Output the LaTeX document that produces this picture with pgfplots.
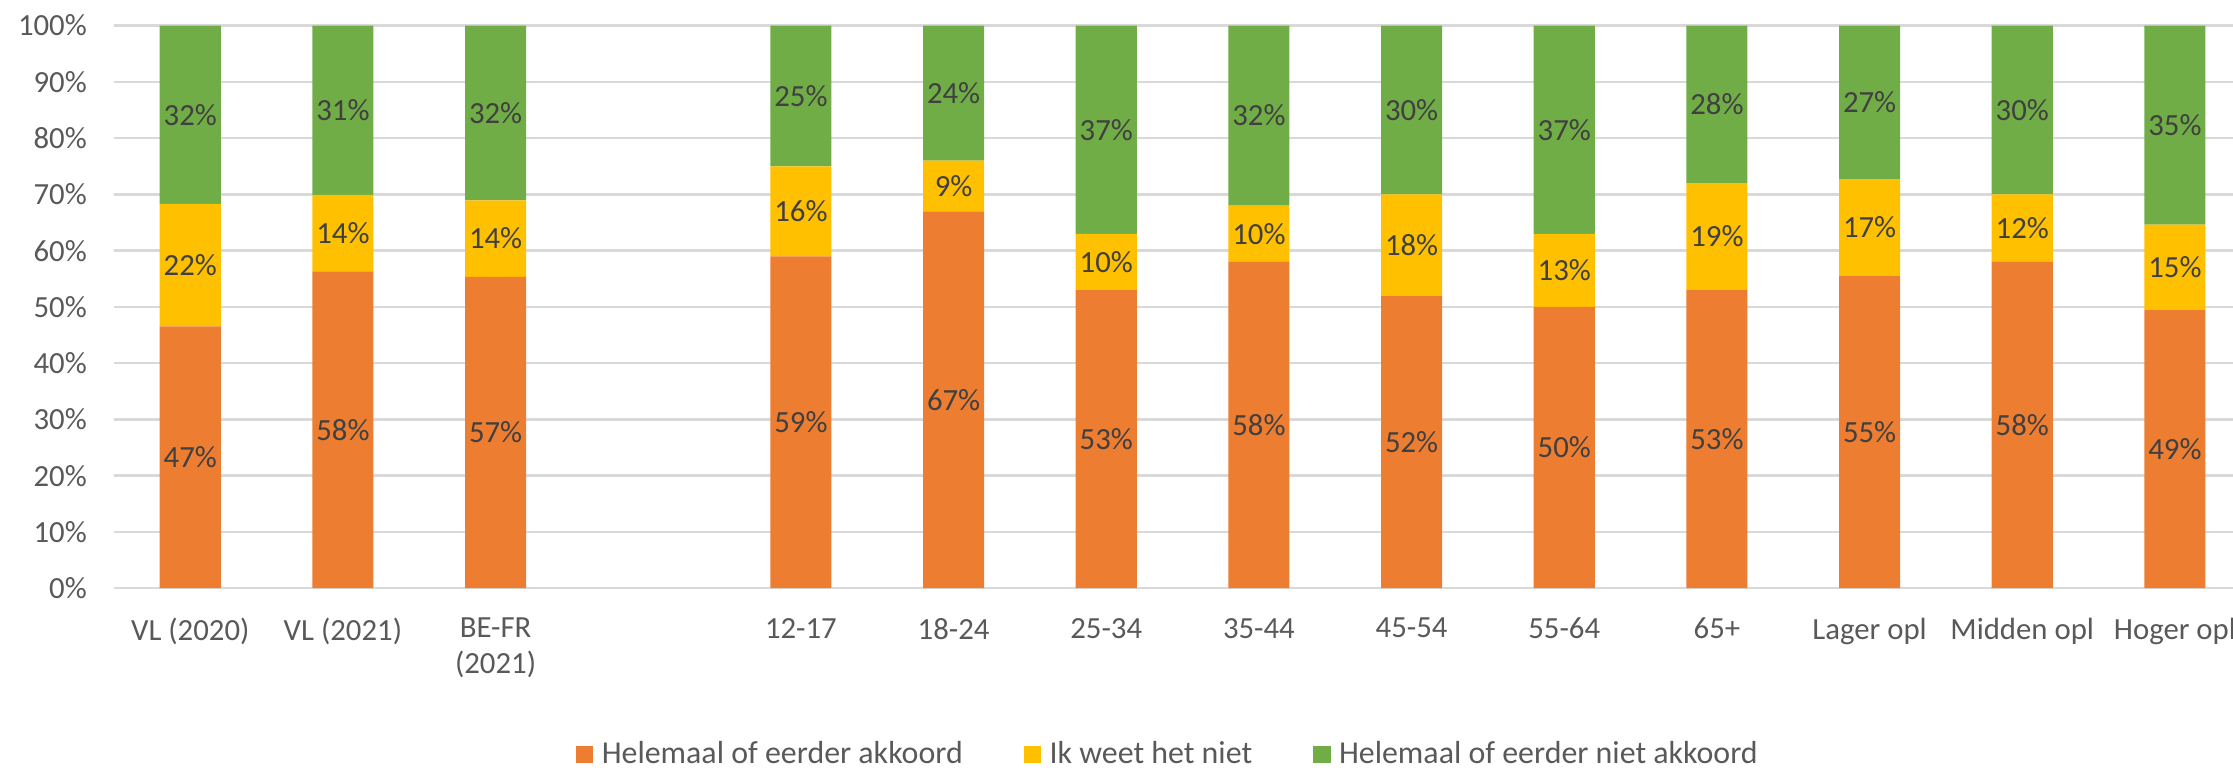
\documentclass[border=0pt]{standalone}
\usepackage{fontspec}
\setmainfont{Carlito}
\usepackage{pgfplots}
\usepackage{pgfplotstable}
\pgfplotsset{compat=1.18}

\definecolor{cAkk}{HTML}{ED7D31}
\definecolor{cWeet}{HTML}{FFC000}
\definecolor{cNiet}{HTML}{70AD47}
\definecolor{gridgray}{HTML}{D9D9D9}
\definecolor{ticktext}{HTML}{595959}
\definecolor{valtext}{HTML}{404040}

% a = helemaal of eerder akkoord, b = ik weet het niet, c = helemaal of eerder niet akkoord
\pgfplotstableread{
x  a  b  c
0  47 22 32
1  58 14 31
2  57 14 32
4  59 16 25
5  67 9  24
6  53 10 37
7  58 10 32
8  52 18 30
9  50 13 37
10 53 19 28
11 55 17 27
12 58 12 30
13 49 15 35
}\datatable

\newcommand{\lblfont}{\fontsize{10.8}{12.5}\selectfont}
\newcommand{\legfont}{\fontsize{11.2}{13}\selectfont}

\pgfplotsset{
  shared/.style={
    width=750.4pt, height=197.5pt, scale only axis,
    xmin=-0.5, xmax=13.5, ymin=0, ymax=100,
  },
}

\begin{document}
\begin{tikzpicture}
\begin{axis}[
  shared,
  ybar stacked, bar width=0.4,
  axis line style={draw=none},
  tick style={draw=none},
  ymajorgrids, grid style={gridgray, line width=0.9pt},
  ytick={0,10,...,100},
  xtick={0,1,2,4,5,6,7,8,9,10,11,12,13},
  xticklabels={VL (2020),VL (2021),{BE-FR\\(2021)},12-17,18-24,25-34,35-44,45-54,55-64,65+,Lager opl,Midden opl,Hoger opl},
  major tick length=0pt,
  yticklabel={\pgfmathprintnumber[assume math mode=true]{\tick}\%},
  yticklabel style={font=\lblfont, text=ticktext, xshift=-6pt},
  xticklabel style={font=\lblfont, text=ticktext, align=center, yshift=-7pt},
  legend columns=3,
  legend image code/.code={\fill[#1] (0pt,-3pt) rectangle (6pt,3pt);},
  legend style={at={(0.494,-0.296)}, anchor=center, draw=none, fill=none,
    font=\legfont, text=ticktext,
    /tikz/every odd column/.append style={column sep=1pt},
    /tikz/every even column/.append style={column sep=19.5pt}},
]
\addplot[fill=cAkk, draw=none] table[x=x, y expr=\thisrow{a}*100/(\thisrow{a}+\thisrow{b}+\thisrow{c})] {\datatable};
\addplot[fill=cWeet, draw=none] table[x=x, y expr=\thisrow{b}*100/(\thisrow{a}+\thisrow{b}+\thisrow{c})] {\datatable};
\addplot[fill=cNiet, draw=none] table[x=x, y expr=\thisrow{c}*100/(\thisrow{a}+\thisrow{b}+\thisrow{c})] {\datatable};
\legend{Helemaal of eerder akkoord, Ik weet het niet, Helemaal of eerder niet akkoord}
\coordinate (bl) at (rel axis cs:0,0);
\end{axis}

% value labels, centred in each segment
\begin{axis}[
  shared, hide axis, clip=false,
  nodes near coords={\pgfmathprintnumber[assume math mode=true]{\pgfplotspointmeta}\%},
  every node near coord/.append style={anchor=center, font=\lblfont, text=valtext},
  point meta=explicit,
]
\addplot[draw=none, mark=none] table[x=x, meta=a,
  y expr=0.5*\thisrow{a}*100/(\thisrow{a}+\thisrow{b}+\thisrow{c})] {\datatable};
\addplot[draw=none, mark=none] table[x=x, meta=b,
  y expr=(\thisrow{a}+0.5*\thisrow{b})*100/(\thisrow{a}+\thisrow{b}+\thisrow{c})] {\datatable};
\addplot[draw=none, mark=none] table[x=x, meta=c,
  y expr=(\thisrow{a}+\thisrow{b}+0.5*\thisrow{c})*100/(\thisrow{a}+\thisrow{b}+\thisrow{c})] {\datatable};
\end{axis}

\pgfresetboundingbox
\path (bl) ++(-40pt,-63.5pt) rectangle ++(784pt,270pt);
\end{tikzpicture}
\end{document}
